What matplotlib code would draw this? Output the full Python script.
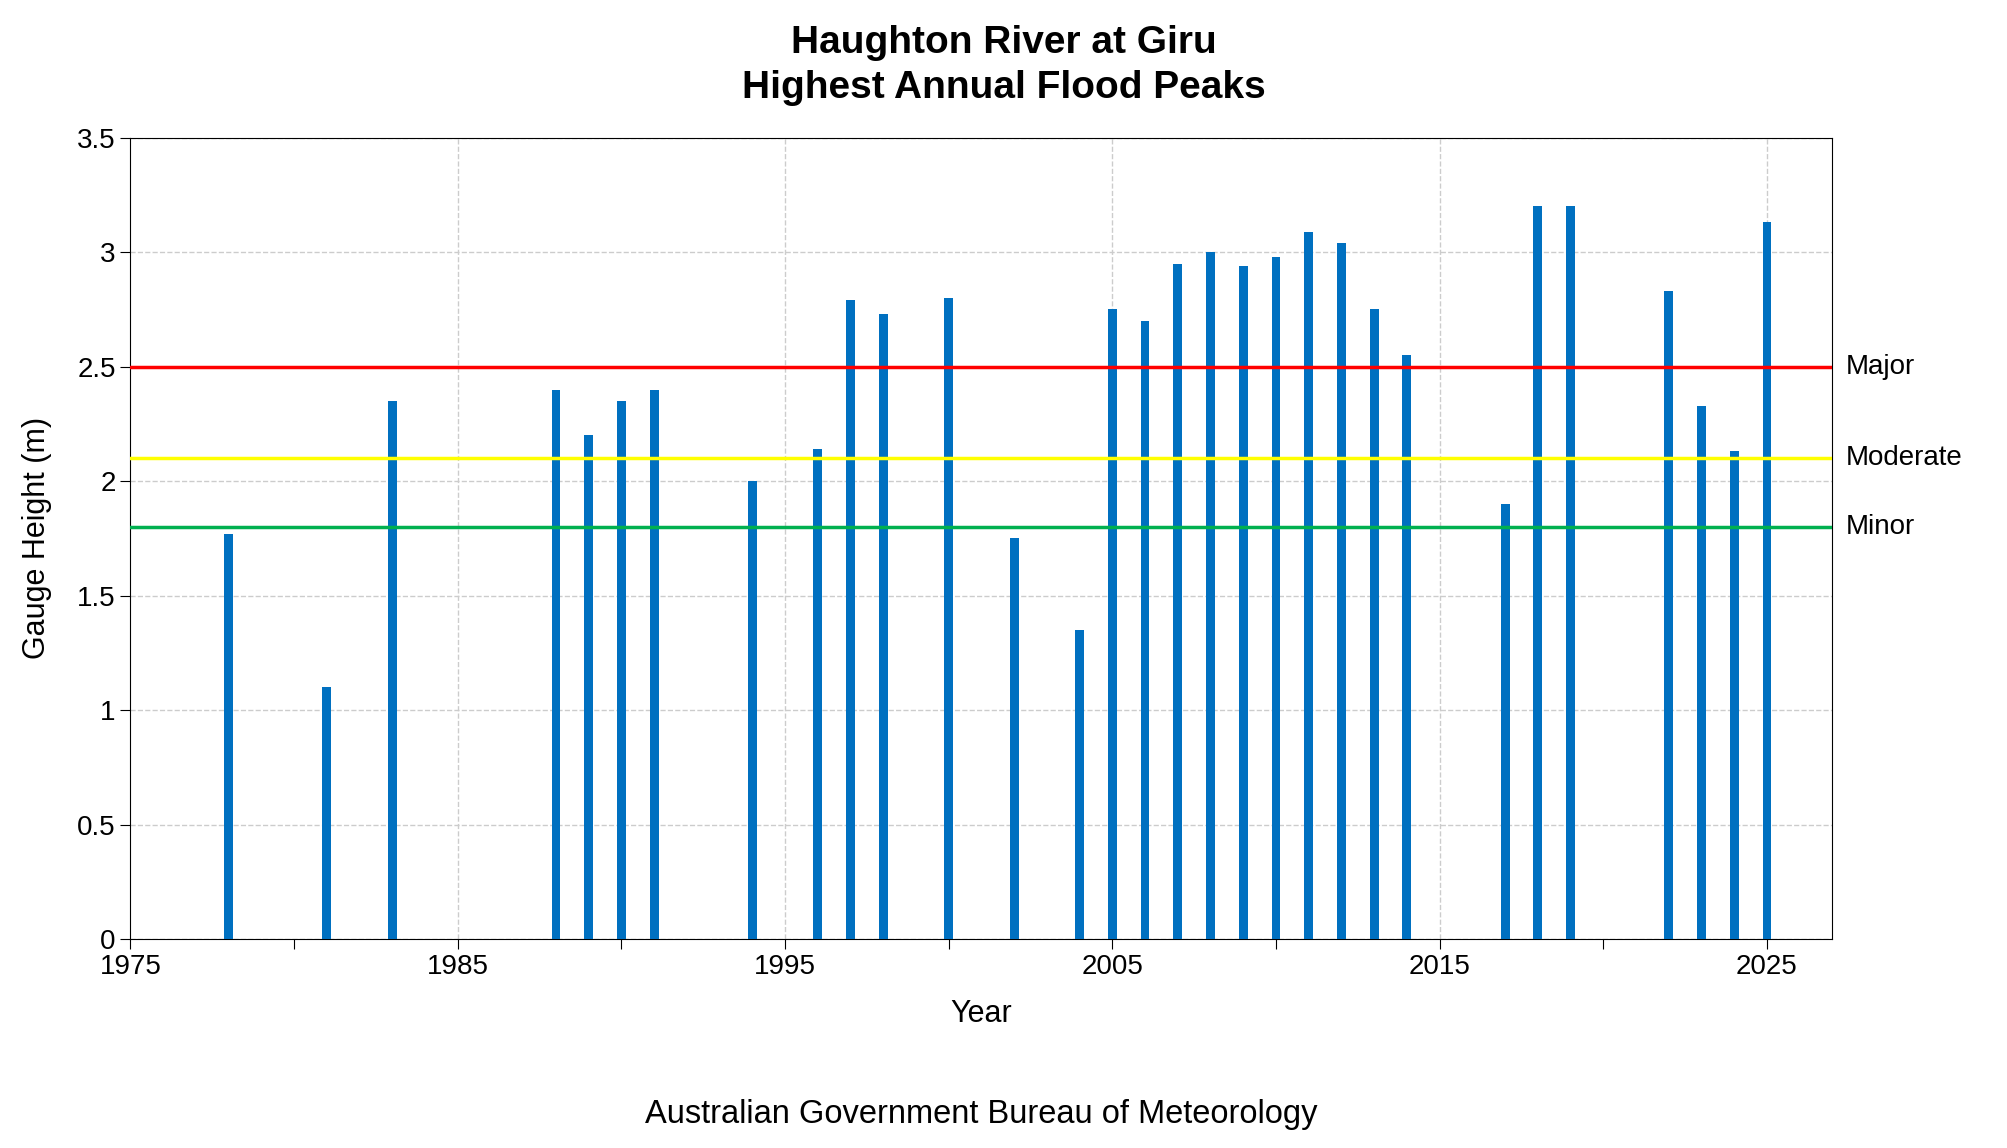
import matplotlib
matplotlib.use("Agg")
import matplotlib.pyplot as plt

plt.rcParams["font.family"] = "Liberation Sans"

years = [1978, 1981, 1983, 1988, 1989, 1990, 1991, 1994, 1996, 1997, 1998, 2000,
         2002, 2004, 2005, 2006, 2007, 2008, 2009, 2010, 2011, 2012, 2013, 2014,
         2017, 2018, 2019, 2022, 2023, 2024, 2025]
heights = [1.77, 1.10, 2.35, 2.40, 2.20, 2.35, 2.40, 2.00, 2.14, 2.79, 2.73, 2.80,
           1.75, 1.35, 2.75, 2.70, 2.95, 3.00, 2.94, 2.98, 3.09, 3.04, 2.75, 2.55,
           1.90, 3.20, 3.20, 2.83, 2.33, 2.13, 3.13]

levels = ["Major", "Moderate", "Minor"]
level_values = [2.5, 2.1, 1.8]
level_colors = ["#ff0000", "#ffff00", "#00b050"]

fig = plt.figure(figsize=(20.07, 11.48), dpi=100)
ax = fig.add_axes([0.065, 0.182, 0.848, 0.698])

ax.bar(years, heights, width=0.27, color="#0070c0", zorder=3)
for name, val, col in zip(levels, level_values, level_colors):
    ax.axhline(val, color=col, lw=2.5, zorder=4)
    ax.text(2027.4, val, name, va="center", ha="left", fontsize=20)

ax.set_xlim(1975, 2027)
ax.set_ylim(0, 3.5)
ax.set_xticks(range(1975, 2026, 5))
ax.set_xticklabels([str(y) if (y - 1975) % 10 == 0 else "" for y in range(1975, 2026, 5)])
ax.yaxis.set_ticks([i * 0.5 for i in range(8)])
ax.set_yticklabels(["0", "0.5", "1", "1.5", "2", "2.5", "3", "3.5"])
ax.tick_params(labelsize=20, direction="out", length=7)
ax.grid(axis="y", ls="--", color="#cccccc", lw=1, zorder=0)
for x in range(1985, 2026, 10):
    ax.axvline(x, ls="--", color="#cccccc", lw=1, zorder=0)

ax.set_xlabel("Year", fontsize=22, labelpad=14)
ax.set_ylabel("Gauge Height (m)", fontsize=22, labelpad=18)
fig.text(0.5, 0.978, "Haughton River at Giru\nHighest Annual Flood Peaks",
         ha="center", va="top", fontsize=28, fontweight="bold", linespacing=1.3)
fig.text(0.489, 0.022, "Australian Government Bureau of Meteorology",
         ha="center", fontsize=23.5)

fig.savefig("out.png", dpi=100)
